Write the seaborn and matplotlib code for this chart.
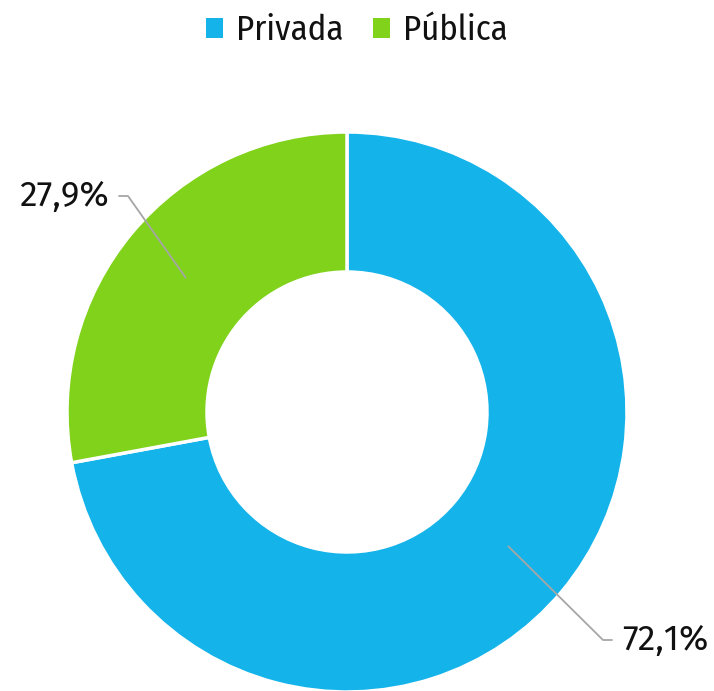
import numpy as np
import matplotlib
matplotlib.use("Agg")
import matplotlib.pyplot as plt
import matplotlib.font_manager as fm
from matplotlib.patches import Patch
import seaborn as sns

categories = ["Privada", "Pública"]
shares = [72.1, 27.9]
labels = ["72,1%", "27,9%"]
colors = ["#14B3EA", "#80D21B"]

sns.set_theme(style="white")
names = {f.name for f in fm.fontManager.ttflist}
preferred = ["Fira Sans Condensed", "Open Sans Condensed", "Asap Condensed",
             "Barlow Semi Condensed", "DejaVu Sans"]
font = next(n for n in preferred if n in names)
label_font = next(n for n in ["Fira Sans Semi Condensed", "Fira Sans", font] if n in names)
plt.rcParams["font.family"] = [font, "DejaVu Sans"]

W, H = 714, 691
fig = plt.figure(figsize=(W / 100, H / 100), dpi=100)
ax = fig.add_axes([0, 0, 1, 1])

cx, cy = 347, H - 412
R, ring = 280, 140
wedges, _ = ax.pie(shares, colors=colors, startangle=90, counterclock=False,
                   radius=R, center=(cx, cy), frame=True,
                   wedgeprops=dict(width=ring, edgecolor="white", linewidth=2.5))
ax.set_xlim(0, W)
ax.set_ylim(0, H)
ax.axis("off")

# leader lines: from the middle of each ring segment to an elbow, then a short tick
elbows = {0: (603, H - 640, 1), 1: (128, H - 196, -1)}
for i, w in enumerate(wedges):
    mid = np.deg2rad((w.theta1 + w.theta2) / 2)
    rm = R - ring / 2
    x0, y0 = cx + rm * np.cos(mid), cy + rm * np.sin(mid)
    ex, ey, side = elbows[i]
    ax.plot([x0, ex, ex + 9 * side], [y0, ey, ey], color="#A6A6A6", lw=1.3)
    ax.text(ex + 19 * side, ey, labels[i], ha="left" if side > 0 else "right",
            va="center", fontsize=25.5, color="#111111", family=[label_font, "DejaVu Sans"])

handles = [Patch(facecolor=c, edgecolor="none") for c in colors]
fig.legend(handles, categories, loc="upper center", bbox_to_anchor=(0.5, 1.013),
           ncol=2, frameon=False, fontsize=25, handlelength=0.5, handleheight=0.5,
           handletextpad=0.37, columnspacing=0.85, borderaxespad=0.25,
           labelcolor="#111111")

fig.savefig("out.png", dpi=100)
